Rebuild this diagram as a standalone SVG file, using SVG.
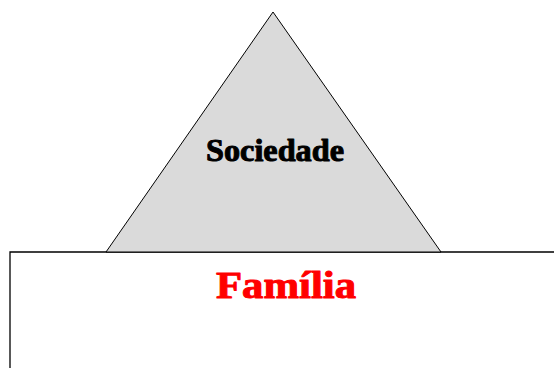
<svg xmlns="http://www.w3.org/2000/svg" width="554" height="368" viewBox="0 0 554 368">
<style>
.lbl{font-family:"Liberation Serif","Times New Roman",serif;font-weight:bold;text-anchor:middle;stroke-linejoin:round}
</style>
<rect width="554" height="368" fill="#ffffff"/>
<g id="familia">
<path d="M10,368 V252 H554" fill="none" stroke="#000" stroke-width="1.3"/>
<text class="lbl" x="286" y="298" font-size="38" fill="#ff0000" stroke="#ff0000" stroke-width="1" textLength="140" lengthAdjust="spacingAndGlyphs">Família</text>
</g>
<g id="sociedade">
<polygon points="273,12 441,252 106,252" fill="#dadada" stroke="#000" stroke-width="1"/>
<text class="lbl" x="275" y="161" font-size="32" fill="#000" stroke="#000" stroke-width="1" textLength="138" lengthAdjust="spacingAndGlyphs">Sociedade</text>
</g>
<g id="connectors"></g>
</svg>
